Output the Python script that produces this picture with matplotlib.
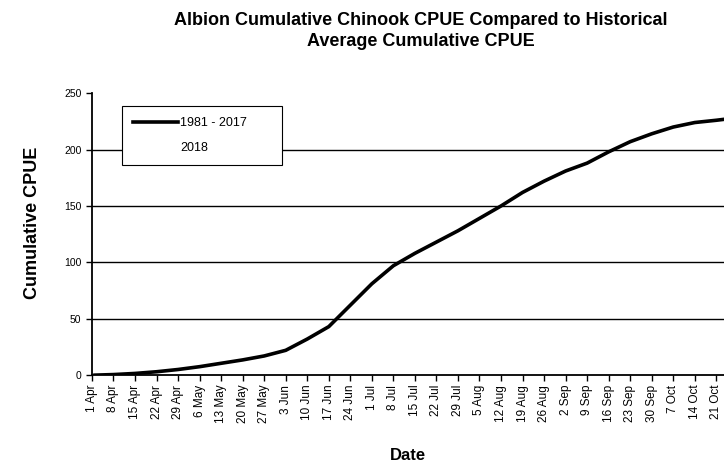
import numpy as np
import matplotlib
matplotlib.use("Agg")
import matplotlib.pyplot as plt

# days since 1 Apr and historical average cumulative CPUE (1981 - 2017)
days = [1, 7, 14, 21, 28, 35, 42, 49, 56, 63, 70, 77, 84, 91, 98, 105, 112, 119,
        126, 133, 140, 147, 154, 161, 168, 175, 182, 189, 196, 203, 206]
cpue_hist = [0, 0.5, 1.5, 3, 5, 7.5, 10.5, 13.5, 17, 22, 32, 43, 62, 81, 97, 108,
             118, 128, 139, 150, 162, 172, 181, 188, 198, 207, 214, 220, 224, 226, 227]

# 2018 series (nothing shown in the reference)
days_2018 = []
cpue_2018 = []

tick_labels = ["1 Apr", "8 Apr", "15 Apr", "22 Apr", "29 Apr", "6 May", "13 May",
               "20 May", "27 May", "3 Jun", "10 Jun", "17 Jun", "24 Jun", "1 Jul",
               "8 Jul", "15 Jul", "22 Jul", "29 Jul", "5 Aug", "12 Aug", "19 Aug",
               "26 Aug", "2 Sep", "9 Sep", "16 Sep", "23 Sep", "30 Sep", "7 Oct",
               "14 Oct", "21 Oct"]
tick_pos = np.arange(len(tick_labels)) * 7

plt.rcParams['font.family'] = ['Liberation Sans', 'DejaVu Sans']

fig = plt.figure(figsize=(7.24, 4.66), dpi=100)
ax = fig.add_axes([0.127, 0.195, 0.873, 0.605])

for v in [50, 100, 150, 200]:
    ax.axhline(v, color='black', lw=1.0, zorder=1)

ax.plot(days, cpue_hist, color='black', lw=2.6, label='1981 - 2017', zorder=3)
ax.plot(days_2018, cpue_2018, color='white', lw=2.6, label='2018', zorder=3)

ax.set_xlim(0, 205.5)
ax.set_ylim(0, 250)
ax.set_yticks([0, 50, 100, 150, 200, 250])
ax.set_xticks(tick_pos)
ax.set_xticklabels(tick_labels, rotation=90, fontsize=8.5)
ax.tick_params(axis='y', labelsize=7.5, length=4, width=1)
ax.tick_params(axis='x', length=4, width=1, pad=3)

ax.spines['top'].set_visible(False)
ax.spines['right'].set_visible(False)
ax.spines['left'].set_linewidth(1.3)
ax.spines['bottom'].set_linewidth(1.3)

ax.set_ylabel('Cumulative CPUE', fontsize=13, fontweight='bold')
ax.yaxis.set_label_coords(-0.08, 0.54)
ax.set_xlabel('Date', fontsize=12, fontweight='bold', labelpad=18)

fig.text(0.581, 0.975, 'Albion Cumulative Chinook CPUE Compared to Historical\nAverage Cumulative CPUE',
         ha='center', va='top', fontsize=13, fontweight='bold', linespacing=1.3)

leg = ax.legend(loc='upper left', bbox_to_anchor=(0.047, 0.755, 0.253, 0.2), mode='expand',
                borderaxespad=0, fontsize=9, frameon=True, fancybox=False, edgecolor='black',
                framealpha=1, handlelength=3.6, handletextpad=0.2, borderpad=0.9,
                labelspacing=1.0)
leg.get_frame().set_linewidth(0.8)
leg.set_zorder(5)

fig.savefig('out.png', dpi=100)
